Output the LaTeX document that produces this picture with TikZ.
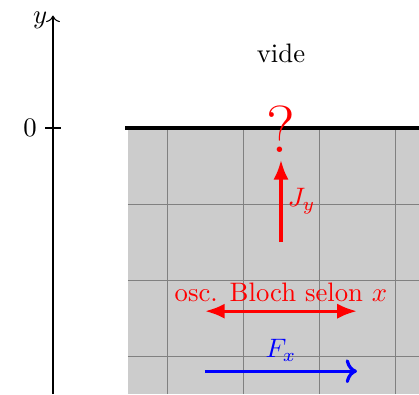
\documentclass[tikz,border=0pt]{standalone}
\usetikzlibrary{arrows.meta}
\begin{document}
\begin{tikzpicture}[
  gridline/.style={black!50, very thin},
  redarrow/.style={red, very thick, -{Latex[length=2.6mm,width=2mm]}},
  redboth/.style={red, very thick, {Latex[length=2.6mm,width=2mm]}-{Latex[length=2.6mm,width=2mm]}},
  bluearrow/.style={blue, very thick, ->}
]
\useasboundingbox (-0.697,-3.5) rectangle (4.816,1.684);
% medium
\fill[gray!40] (0.987,0) rectangle (4.816,-3.5);
\foreach \x in {1.5,2.5,3.5,4.5} \draw[gridline] (\x,0) -- (\x,-3.5);
\foreach \y in {-1,-2,-3} \draw[gridline] (0.987,\y) -- (4.816,\y);
\coordinate (sl) at (0.95,0);
\coordinate (sr) at (4.816,0);
\draw[very thick] (sl) -- (sr);
% axis
\coordinate (ab) at (0,-3.5);
\coordinate (at) at (0,1.48);
\draw[->] (ab) -- (at);
\node[left, inner sep=2pt] (ylab) at (0,1.42) {$y$};
\coordinate (tl) at (-0.1,0);
\coordinate (tr) at (0.1,0);
\draw (tl) -- (tr);
\node[left, inner sep=3pt] (zero) at (tl) {$0$};
% texts
\node (vide) at (3,0.98) {vide};
\node[red, inner sep=0pt] (q) at (3,-0.02) {\Huge ?};
% J_y
\coordinate (jb) at (3,-1.5);
\coordinate (jt) at (3,-0.42);
\draw[redarrow] (jb) -- (jt) node[midway, right, inner sep=2pt] (jlab) {$J_y$};
% Bloch
\coordinate (bl) at (2,-2.41);
\coordinate (br) at (4,-2.41);
\draw[redboth] (bl) -- (br) node[midway, above, red, inner sep=3pt] (blab) {osc. Bloch selon $x$};
% F_x
\coordinate (fl) at (2,-3.2);
\coordinate (fr) at (4,-3.2);
\draw[bluearrow] (fl) -- (fr) node[midway, above, blue, inner sep=3pt] (flab) {$F_x$};
\end{tikzpicture}
\end{document}
